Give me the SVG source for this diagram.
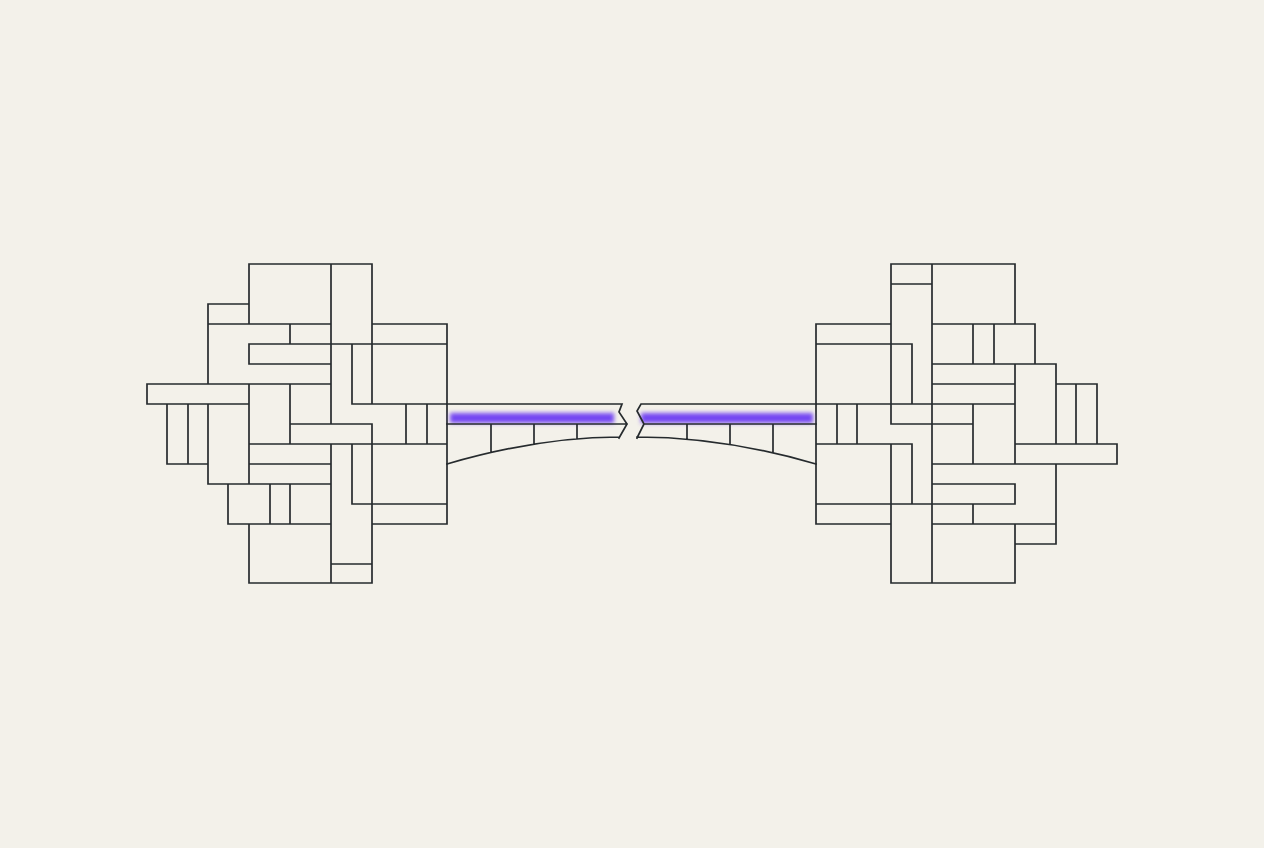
<svg xmlns="http://www.w3.org/2000/svg" width="1264" height="848" viewBox="0 0 1264 848">
<defs>
<style>.l{fill:none;stroke:#262b2e;stroke-width:1.7;stroke-linecap:square}.g{fill:#7546f2;filter:url(#b)}</style>
<filter id="b" filterUnits="userSpaceOnUse" x="400" y="380" width="460" height="80"><feGaussianBlur stdDeviation="2.2"/></filter>
</defs>
<rect width="1264" height="848" fill="#f3f1ea"/>
<g id="left-cluster" class="l">
<path d="M249 264H372M249 264V324M331 264V424M372 264V404M208 304H249M208 304V384M208 324H331M290 324V344M372 324H447M447 324V524M249 344H447M249 344V364M249 364H331M352 344V404M147 384H331M147 384V404M147 404H249M352 404H447M249 384V484M290 384V444M167 404V464M188 404V464M208 404V484M167 464H208M406 404V444M427 404V444M290 424H372M372 424V583M249 444H447M331 444V583M352 444V504M249 464H331M352 504H447M372 524H447M208 484H331M228 484V524M270 484V524M290 484V524M228 524H331M249 524V583M249 583H372M331 564H372"/>
</g>
<g id="right-cluster" class="l">
<path d="M891 264H1015M891 264V424M891 444V583M891 284H932M932 264V583M1015 264V324M816 324H891M932 324H1035M973 324V364M994 324V364M1035 324V364M816 344H912M912 344V404M816 324V524M932 364H1056M932 384H1015M1015 364V464M1056 364V444M1056 464V544M1056 384H1097M1076 384V444M1097 384V444M816 404H1015M837 404V444M857 404V444M891 424H973M973 404V464M816 444H912M912 444V504M1015 444H1117M1117 444V464M932 464H1117M932 484H1015M1015 484V504M816 504H1015M973 504V524M816 524H891M932 524H1056M1015 544H1056M1015 524V583M891 583H1015"/>
</g>
<g id="bridge">
<rect class="g" x="450" y="413" width="164" height="10"/>
<rect class="g" x="641" y="413" width="172" height="10"/>
<path class="l" d="M447 404H622L619 412L627 424L619 438M447 424H627M491 424V452M534 424V444M577 424V439M447 464Q540 437 619 437"/>
<path class="l" d="M816 404H641L637 411L644 424L637 438M816 424H644M687 424V439M730 424V444M773 424V452M816 464Q723 437 637 437"/>
</g>
</svg>
